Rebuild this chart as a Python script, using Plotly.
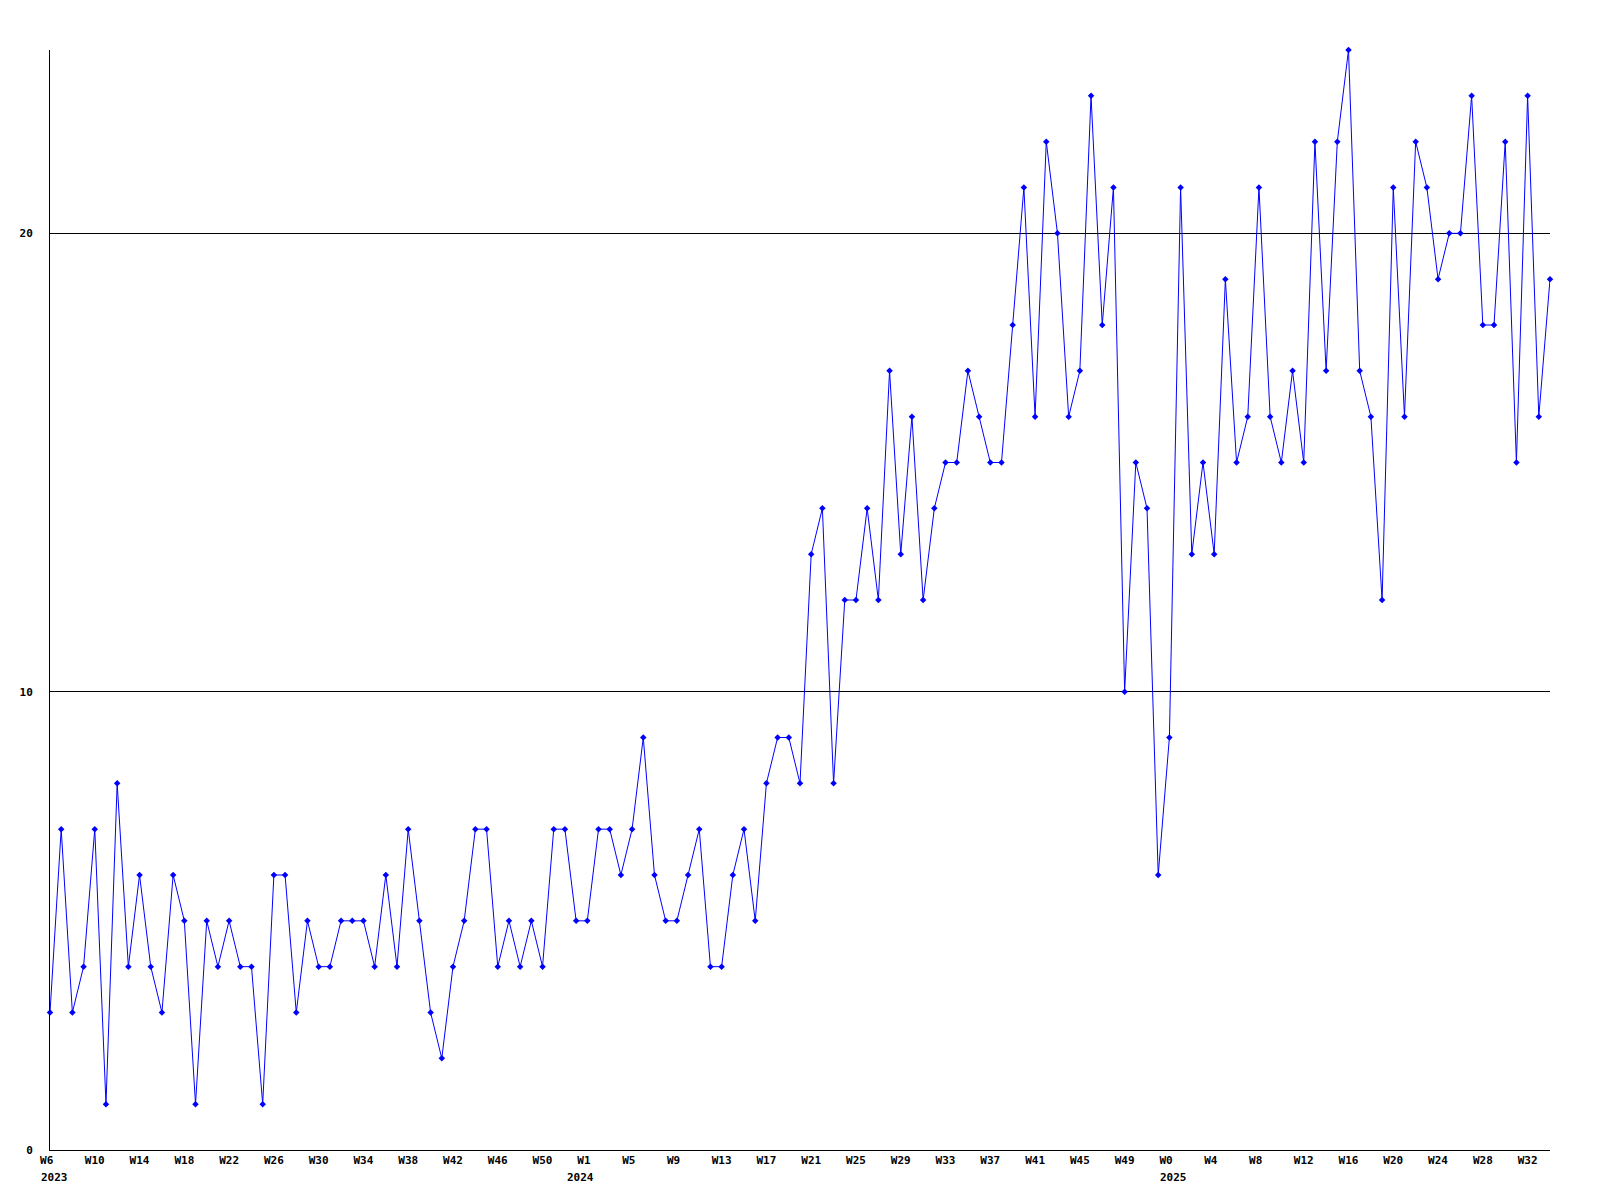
import pandas as pd
import plotly.graph_objects as go

start_week = "2023-02-06"

values = [
    3, 7, 3, 4, 7, 1, 8, 4, 6, 4, 3, 6, 5, 1, 5, 4, 5, 4, 4, 1, 6, 6, 3, 5, 4, 4, 5, 5, 5, 4, 6, 4,
    7, 5, 3, 2, 4, 5, 7, 7, 4, 5, 4, 5, 4, 7, 7, 5, 5, 7, 7, 6, 7, 9, 6, 5, 5, 6, 7, 4, 4, 6, 7, 5, 8, 9, 9, 8,
    13, 14, 8, 12, 12, 14, 12, 17, 13, 16, 12, 14, 15, 15, 17, 16, 15, 15, 18, 21, 16, 22, 20, 16, 17, 23, 18, 21, 10, 15, 14, 6, 9, 21,
    13, 15, 13, 19, 15, 16, 21, 16, 15, 17, 15, 22, 17, 22, 24, 17, 16, 12, 21, 16, 22, 21, 19, 20, 20, 23, 18, 18, 22, 15, 23, 16, 19,
]

tick_labels = [
    "W6", "W10", "W14", "W18", "W22", "W26", "W30", "W34", "W38", "W42", "W46", "W50",
    "W1", "W5", "W9", "W13", "W17", "W21", "W25", "W29", "W33", "W37", "W41", "W45", "W49",
    "W0", "W4", "W8", "W12", "W16", "W20", "W24", "W28", "W32",
]

year_labels = ["2023", "2024", "2025"]
year_week_index = [0, 47, 100]

y_ticks = [0, 10, 20]

weeks = pd.date_range(start=start_week, periods=len(values), freq="7D")
tick_dates = list(weeks[::4][: len(tick_labels)])

# labels in the reference are left-aligned (3-char width); pad short ones
tick_text = [t if len(t) >= 3 else t + "\u00a0" for t in tick_labels]

fig = go.Figure()
fig.add_trace(
    go.Scatter(
        x=weeks,
        y=values,
        mode="lines+markers",
        line=dict(color="#0000FF", width=1),
        marker=dict(symbol="diamond", size=5, color="#0000FF"),
        showlegend=False,
        cliponaxis=False,
    )
)

font = dict(family="DejaVu Sans Mono", size=11, color="black", weight="bold")

for label, wi in zip(year_labels, year_week_index):
    fig.add_annotation(
        x=weeks[wi],
        y=0,
        xref="x",
        yref="paper",
        text=label,
        showarrow=False,
        xanchor="left",
        yanchor="top",
        xshift=-11,
        yshift=-19,
        font=font,
    )

fig.update_layout(
    width=1592,
    height=1192,
    margin=dict(l=42, r=50, t=42, b=50, pad=0),
    paper_bgcolor="white",
    plot_bgcolor="white",
    font=font,
)
fig.update_xaxes(
    range=[weeks[0], weeks[-1]],
    tickmode="array",
    tickvals=tick_dates,
    ticktext=tick_text,
    showgrid=False,
    showline=True,
    linecolor="black",
    linewidth=1,
    ticks="",
    zeroline=False,
    tickfont=font,
)
fig.update_yaxes(
    range=[0, 24],
    tickmode="array",
    tickvals=y_ticks,
    ticktext=[str(v) for v in y_ticks],
    showgrid=True,
    gridcolor="black",
    gridwidth=1,
    showline=True,
    linecolor="black",
    linewidth=1,
    ticks="",
    zeroline=False,
    ticklabelstandoff=14,
    tickfont=font,
)

fig.write_html("out.html")
